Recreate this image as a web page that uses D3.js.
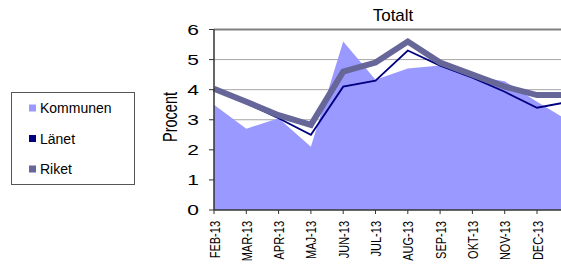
<!DOCTYPE html>
<html>
<head>
  <meta charset="utf-8">
  <title>Totalt</title>
  <style>
    body { margin: 0; background: #fff; font-family: 'Liberation Sans', Arial, sans-serif; }
    svg { display: block; }
  </style>
</head>
<body>
  <div id="chart"></div>
  <script src="https://cdn.jsdelivr.net/npm/d3@7"></script>
  <script>
    // data (procent)
    var months = ["FEB-13", "MAR-13", "APR-13", "MAJ-13", "JUN-13", "JUL-13",
      "AUG-13", "SEP-13", "OKT-13", "NOV-13", "DEC-13", "JAN-14"];
    var kommunen = [3.5, 2.7, 3.05, 2.1, 5.6, 4.33, 4.7, 4.8, 4.45, 4.28, 3.6, 2.95];
    var lanet = [4.0, 3.55, 3.05, 2.5, 4.1, 4.3, 5.3, 4.8, 4.4, 3.93, 3.4, 3.6];
    var riket = [4.03, 3.6, 3.15, 2.83, 4.6, 4.9, 5.6, 4.9, 4.5, 4.1, 3.82, 3.82];
    var yTicks = [0, 1, 2, 3, 4, 5, 6];

    var legendItems = [
      { name: "Kommunen", color: "#9999ff" },
      { name: "Länet", color: "#000080" },
      { name: "Riket", color: "#666699" }
    ];

    var width = 561,
      height = 277;

    var plot = { left: 214, top: 29.5, bottom: 210, step: 32.3 };

    var svg = d3.select("#chart").append("svg")
      .attr("width", width)
      .attr("height", height);

    var x = d3.scalePoint()
      .domain(months)
      .range([plot.left, plot.left + plot.step * (months.length - 1)]);

    var y = d3.scaleLinear()
      .domain([0, 6])
      .range([plot.bottom, plot.top]);

    // gridlines
    svg.append("g")
      .selectAll("line")
      .data(yTicks.filter(function(d) { return d > 0; }))
      .enter().append("line")
      .attr("x1", plot.left)
      .attr("x2", width)
      .attr("y1", function(d) { return y(d); })
      .attr("y2", function(d) { return y(d); })
      .attr("stroke", function(d) { return d == 6 ? "#808080" : "#a6a6a6"; })
      .attr("stroke-width", function(d) { return d == 6 ? 2 : 1; });

    // Kommunen area
    var area = d3.area()
      .x(function(d, i) { return x(months[i]); })
      .y0(y(0))
      .y1(function(d) { return y(d); });

    svg.append("path")
      .datum(kommunen)
      .attr("d", area)
      .attr("fill", "#9999ff");

    var line = d3.line()
      .x(function(d, i) { return x(months[i]); })
      .y(function(d) { return y(d); });

    svg.append("path")
      .datum(lanet)
      .attr("d", line)
      .attr("fill", "none")
      .attr("stroke", "#000080")
      .attr("stroke-width", 1.8);

    svg.append("path")
      .datum(riket)
      .attr("d", line)
      .attr("fill", "none")
      .attr("stroke", "#666699")
      .attr("stroke-width", 6)
      .attr("stroke-linejoin", "miter");

    // axes
    svg.append("line")
      .attr("x1", plot.left).attr("x2", plot.left)
      .attr("y1", y(6)).attr("y2", y(0))
      .attr("stroke", "#333").attr("stroke-width", 1.5);

    svg.append("line")
      .attr("x1", plot.left).attr("x2", width)
      .attr("y1", y(0)).attr("y2", y(0))
      .attr("stroke", "#333").attr("stroke-width", 1.5);

    // y ticks + labels
    var yt = svg.append("g").selectAll("g")
      .data(yTicks)
      .enter().append("g");

    yt.append("line")
      .attr("x1", plot.left - 5).attr("x2", plot.left)
      .attr("y1", function(d) { return y(d); })
      .attr("y2", function(d) { return y(d); })
      .attr("stroke", "#333");

    yt.append("text")
      .attr("transform", function(d) {
        return "translate(199," + y(d) + ") scale(1.4,1)";
      })
      .attr("text-anchor", "end")
      .attr("dy", "0.36em")
      .style("font-size", "15px")
      .text(function(d) { return d; });

    // x ticks + labels (the last month falls outside the cropped picture)
    var xt = svg.append("g").selectAll("g")
      .data(months)
      .enter().append("g");

    xt.append("line")
      .attr("x1", function(d) { return x(d); })
      .attr("x2", function(d) { return x(d); })
      .attr("y1", y(0)).attr("y2", y(0) + 4)
      .attr("stroke", "#333");

    xt.filter(function(d) { return x(d) < width - 6; })
      .append("text")
      .attr("transform", function(d) {
        return "translate(" + x(d) + ",221) rotate(-90) scale(1,1.4)";
      })
      .attr("text-anchor", "end")
      .attr("dy", "0.36em")
      .style("font-size", "11px")
      .text(function(d) { return d; });

    // title
    svg.append("text")
      .attr("x", 393)
      .attr("y", 20.5)
      .attr("text-anchor", "middle")
      .style("font-size", "17px")
      .text("Totalt");

    // y axis title
    svg.append("text")
      .attr("transform", "translate(169,117) rotate(-90) scale(1,1.45)")
      .attr("text-anchor", "middle")
      .attr("dy", "0.36em")
      .style("font-size", "14.5px")
      .text("Procent");

    // legend
    var legend = svg.append("g");

    legend.append("rect")
      .attr("x", 11.5).attr("y", 92.5)
      .attr("width", 123).attr("height", 92)
      .attr("fill", "#fff")
      .attr("stroke", "#555");

    var li = legend.selectAll("g")
      .data(legendItems)
      .enter().append("g")
      .attr("transform", function(d, i) {
        return "translate(0," + (108 + i * 30.5) + ")";
      });

    li.append("rect")
      .attr("x", 29).attr("y", -3.5)
      .attr("width", 7).attr("height", 7)
      .attr("fill", function(d) { return d.color; });

    li.append("text")
      .attr("x", 40)
      .attr("dy", "0.36em")
      .style("font-size", "14px")
      .text(function(d) { return d.name; });
  </script>
</body>
</html>
